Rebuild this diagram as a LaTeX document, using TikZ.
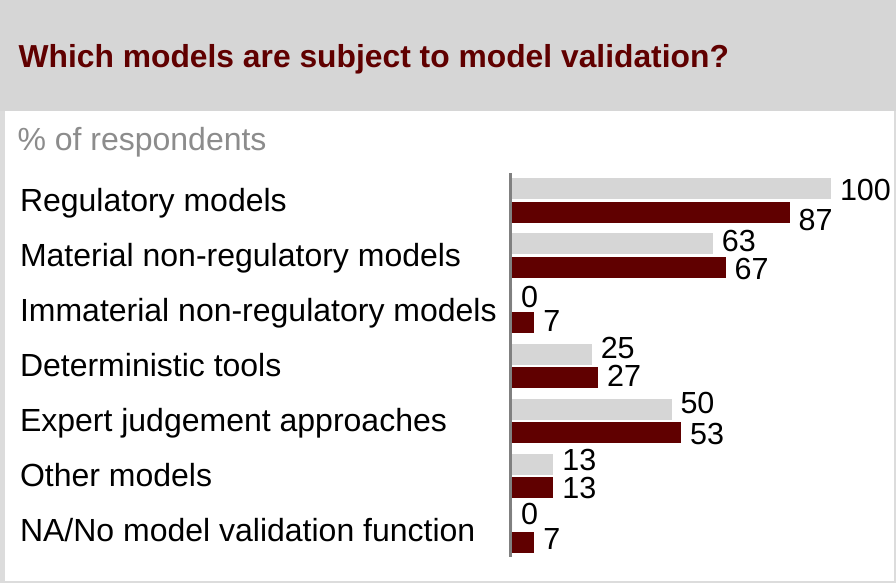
\documentclass[tikz,border=0pt]{standalone}
\usepackage{fontspec}
\setmainfont{Liberation Sans}
\definecolor{darkred}{HTML}{600000}
\definecolor{bargray}{HTML}{D6D6D6}
\definecolor{headgray}{HTML}{D6D6D6}
\definecolor{framegray}{HTML}{DCDCDC}
\definecolor{subgray}{HTML}{8C8C8C}
\definecolor{axisgray}{HTML}{808080}
\begin{document}
\begin{tikzpicture}[x=1pt,y=-1pt,
  txt/.style={anchor=base west, inner sep=0pt, outer sep=0pt, font=\fontsize{32}{32}\selectfont},
  titlelab/.style={txt, text=darkred, font=\fontsize{31.8}{31.8}\selectfont\bfseries},
  sublab/.style={txt, text=subgray},
  catlab/.style={txt, text=black},
  numlab/.style={txt, text=black, font=\fontsize{30.5}{30.5}\selectfont},
  graybar/.style={fill=bargray},
  redbar/.style={fill=darkred},
  axisline/.style={draw=axisgray, line width=3pt}]
\useasboundingbox (0,0) rectangle (896,583);
\fill[framegray] (0,0) rectangle (896,583);
\fill[headgray] (0,0) rectangle (896,111);
\fill[white] (5,111) rectangle (894,581);

\node[titlelab] (title) at (18.6,67.7) {Which models are subject to model validation?};
\node[sublab] (sub) at (17.5,150.3) {\% of respondents};

\node[catlab] (c1) at (20,211.7) {Regulatory models};
\node[catlab] (c2) at (20,266.7) {Material non-regulatory models};
\node[catlab] (c3) at (20,321.7) {Immaterial non-regulatory models};
\node[catlab] (c4) at (20,376.7) {Deterministic tools};
\node[catlab] (c5) at (20,431.7) {Expert judgement approaches};
\node[catlab] (c6) at (20,486.7) {Other models};
\node[catlab] (c7) at (20,541.7) {NA/No model validation function};

\foreach \i/\g/\r/\gy/\ry in {1/100/87/200.7/230.7, 2/63/67/251.7/279.3, 3/0/7/307.3/331.7, 4/25/27/358.3/386.7, 5/50/53/413.3/444, 6/13/13/470.7/498.3, 7/0/7/524/549.3}{
  \pgfmathsetmacro\bt{178.3+55.1*(\i-1)}
  \pgfmathsetmacro\bb{\bt+21}
  \pgfmathsetmacro\rt{\bt+23.4}
  \pgfmathsetmacro\rb{\rt+21}
  \pgfmathsetmacro\gx{512+3.19*\g}
  \pgfmathsetmacro\rx{512+3.19*\r}
  \fill[graybar] (512,\bt) rectangle (\gx,\bb);
  \fill[redbar] (512,\rt) rectangle (\rx,\rb);
  \node[numlab] (g\i) at (\gx+9,\gy) {\g};
  \node[numlab] (r\i) at (\rx+9,\ry) {\r};
}

\coordinate (axtop) at (510.7,173.3);
\coordinate (axbot) at (510.7,557);
\draw[axisline] (axtop) -- (axbot);
\end{tikzpicture}
\end{document}
